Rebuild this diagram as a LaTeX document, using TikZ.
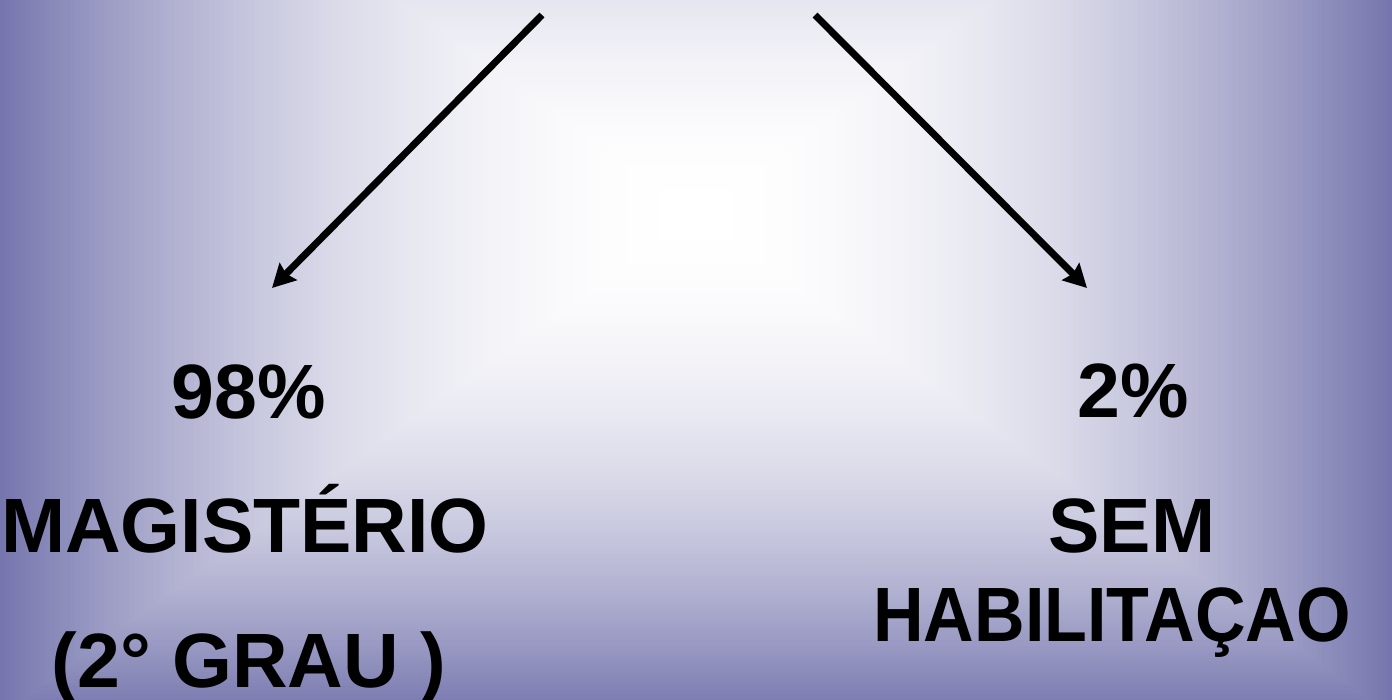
\documentclass[tikz,border=0pt]{standalone}
\usepackage{fontspec}
\setmainfont{Liberation Sans}
\usetikzlibrary{arrows.meta}
\definecolor{edgecol}{HTML}{7676AE}
\begin{document}
\begin{tikzpicture}[x=1pt,y=-1pt,
  lbl/.style={font=\bfseries\fontsize{77}{77}\selectfont, text=black, inner sep=0pt, anchor=base},
  arr/.style={line width=7pt, draw=black, -{Stealth[length=23pt,width=24pt,inset=3pt]}}]
\useasboundingbox (0,0) rectangle (1392,699);
\begin{scope}
\clip (0,0) rectangle (1392,699);
\foreach \i in {140,139,...,1}{
  \pgfmathsetmacro{\s}{\i/140}
  \pgfmathsetmacro{\f}{100*\s*\s}
  \fill[edgecol!\f!white] ({696-696*\s},{215-500*\s}) rectangle ({696+696*\s},{215+500*\s});
}
\end{scope}
\node[lbl] (p98) at (249,418) {98\%};
\node[lbl] (mag) at (245,552) {MAGISTÉRIO};
\node[lbl] (grau) at (249,687) {(2° GRAU )};
\node[lbl] (p2) at (1133,417) {2\%};
\node[lbl] (sem) at (1132,552) {SEM};
\node[lbl, xscale=0.91] (hab) at (1112,641) {HABILITAÇAO};
\coordinate (a1s) at (542,15);
\coordinate (a1e) at (272,288);
\coordinate (a2s) at (815,15);
\coordinate (a2e) at (1087,288);
\draw[arr] (a1s) -- (a1e);
\draw[arr] (a2s) -- (a2e);
\end{tikzpicture}
\end{document}
